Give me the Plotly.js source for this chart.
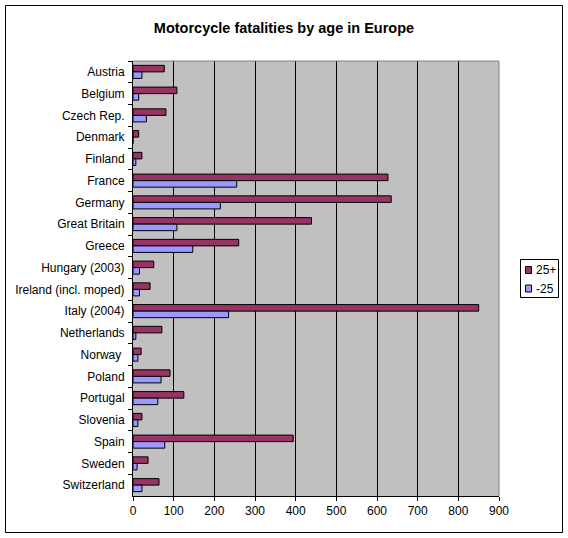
<!DOCTYPE html>
<html>
<head>
<meta charset="utf-8">
<script src="https://cdn.plot.ly/plotly-3.0.1.min.js"></script>
<style>html,body{margin:0;padding:0;background:#fff;}#chart{width:568px;height:538px;}</style>
</head>
<body>
<div id="chart"></div>
<script>
const countries = ["Austria","Belgium","Czech Rep.","Denmark","Finland","France","Germany","Great Britain","Greece","Hungary (2003)","Ireland (incl. moped)","Italy (2004)","Netherlands","Norway\u00a0","Poland","Portugal","Slovenia","Spain","Sweden","Switzerland"];
const over25 = [77,108,81,14,22,627,635,439,260,51,42,850,71,20,91,125,22,394,37,64];
const under25 = [22,14,33,0,7,255,215,108,147,16,16,235,7,12,69,61,12,78,10,22];
const xTicks = [0,100,200,300,400,500,600,700,800,900];
const seriesNames = ["25+", "-25"];
const seriesColors = ["#993366", "#9999FF"];

const font = {family: "Liberation Sans, Arial, sans-serif", size: 12, color: "#000"};

const traces = [
  {type: "bar", orientation: "h", name: seriesNames[0], y: countries, x: over25, showlegend: false,
   marker: {color: seriesColors[0], line: {color: "#000", width: 1}}},
  {type: "bar", orientation: "h", name: seriesNames[1], y: countries, x: under25, showlegend: false,
   marker: {color: seriesColors[1], line: {color: "#000", width: 1}}}
];

const L = 133, R = 499, T = 61, B = 496, W = 568, H = 538;
const pw = R - L, ph = B - T;
const px = v => (v - L) / pw;
const py = v => (B - v) / ph;

// legend (drawn with shapes + annotations to match the compact box)
const legShapes = [
  {type: "rect", xref: "paper", yref: "paper", x0: px(520.5), x1: px(558.5), y0: py(297.5), y1: py(259.5),
   line: {color: "#000", width: 1}, fillcolor: "#fff"}
];
const legAnn = [];
const legRows = [270, 288.5];
seriesNames.forEach((n, i) => {
  const cy = legRows[i];
  legShapes.push({type: "rect", xref: "paper", yref: "paper", x0: px(525.5), x1: px(531.5), y0: py(cy + 3.5), y1: py(cy - 3.5),
    line: {color: "#000", width: 1}, fillcolor: seriesColors[i]});
  legAnn.push({xref: "paper", yref: "paper", x: px(534), y: py(cy), xanchor: "left", yanchor: "middle",
    text: n, showarrow: false, font: font});
});

const layout = {
  width: W, height: H,
  margin: {l: L, r: W - R, t: T, b: H - B, pad: 0, autoexpand: false},
  paper_bgcolor: "#fff",
  plot_bgcolor: "#C0C0C0",
  font: font,
  title: {text: "<b>Motorcycle fatalities by age in Europe</b>", x: 0.5, xanchor: "center", y: 1 - 28/H, yanchor: "middle",
          font: {family: "Liberation Sans, Arial, sans-serif", size: 14.5, color: "#000"}},
  barmode: "group",
  bargap: 0.4,
  bargroupgap: 0,
  showlegend: false,
  xaxis: {range: [0, 900], tickvals: xTicks, ticktext: xTicks.map(String),
          showgrid: true, gridcolor: "#000", gridwidth: 1, zeroline: false,
          showline: true, linecolor: "#000", linewidth: 1,
          ticks: "outside", ticklen: 4, tickcolor: "#000", tickfont: font,
          fixedrange: true},
  yaxis: {type: "category", autorange: "reversed", showgrid: false, zeroline: false,
          showline: true, linecolor: "#000", linewidth: 1,
          ticks: "outside", ticklen: 4, tickcolor: "#000", tickson: "boundaries",
          ticklabelstandoff: 5,
          tickfont: font, fixedrange: true},
  shapes: [
    {type: "line", xref: "paper", yref: "paper", x0: 0, x1: 1, y0: 1, y1: 1, line: {color: "#808080", width: 1}},
    {type: "line", xref: "paper", yref: "paper", x0: 1, x1: 1, y0: 0, y1: 1, line: {color: "#808080", width: 1}},
    {type: "rect", xref: "paper", yref: "paper", x0: px(5.5), x1: px(562.5), y0: py(532.5), y1: py(5.5),
     line: {color: "#000", width: 1}, fillcolor: "rgba(0,0,0,0)"}
  ].concat(legShapes),
  annotations: legAnn
};

Plotly.newPlot("chart", traces, layout, {displayModeBar: false, staticPlot: true});
</script>
</body>
</html>
